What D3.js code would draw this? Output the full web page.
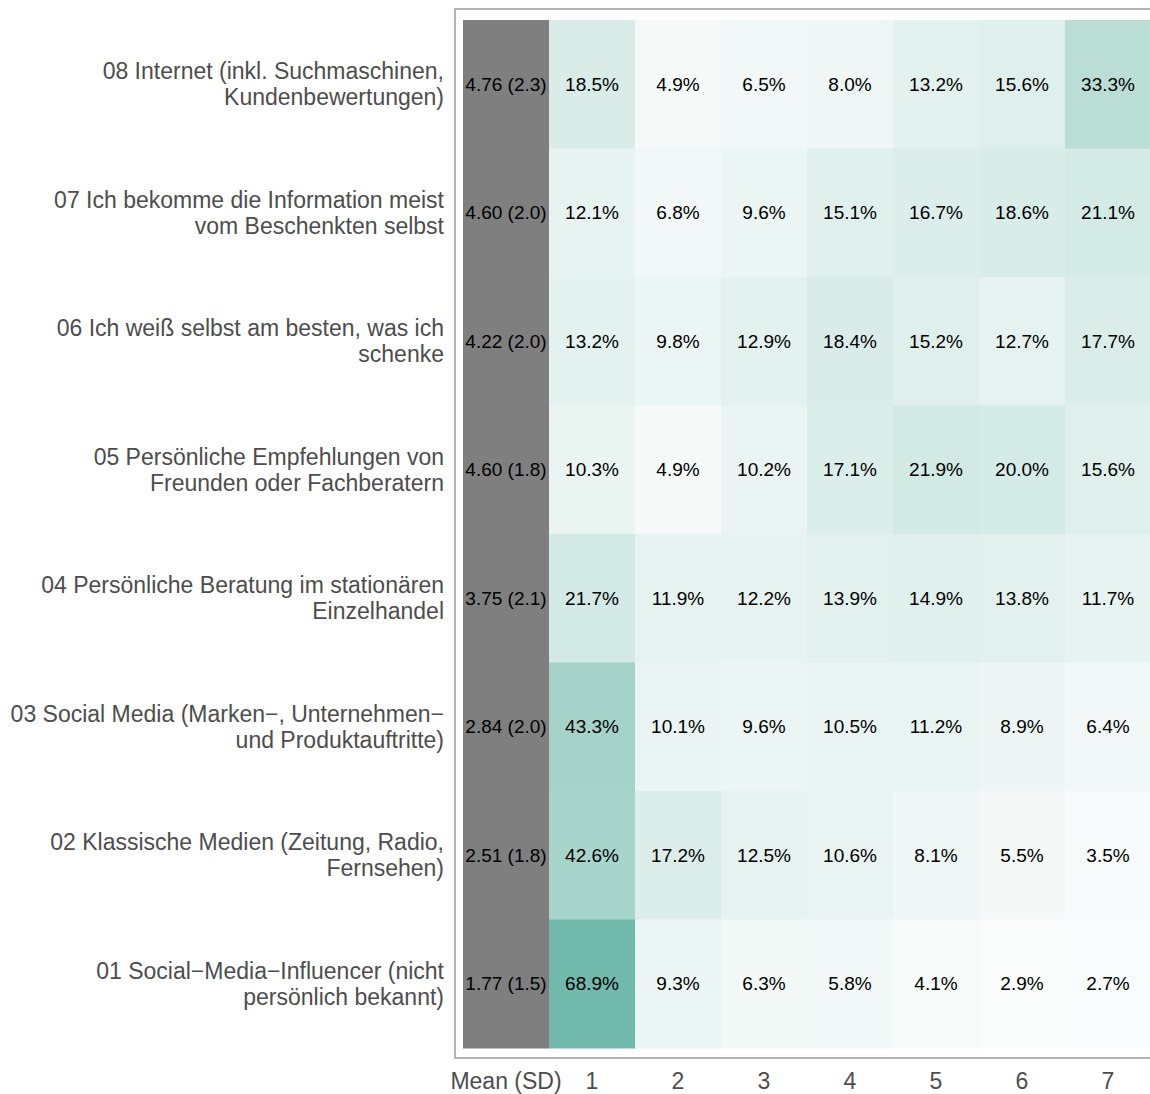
<!DOCTYPE html>
<html><head><meta charset="utf-8">
<script src="https://cdn.jsdelivr.net/npm/d3@7"></script>
<style>body{margin:0;background:#fff;}</style>
</head><body>
<svg id="chart" width="1150" height="1094" font-family="'Liberation Sans', Arial, sans-serif"></svg>
<script>
const items = [
  ["08 Internet (inkl. Suchmaschinen,", "Kundenbewertungen)"],
  ["07 Ich bekomme die Information meist", "vom Beschenkten selbst"],
  ["06 Ich weiß selbst am besten, was ich", "schenke"],
  ["05 Persönliche Empfehlungen von", "Freunden oder Fachberatern"],
  ["04 Persönliche Beratung im stationären", "Einzelhandel"],
  ["03 Social Media (Marken\u2212, Unternehmen\u2212", "und Produktauftritte)"],
  ["02 Klassische Medien (Zeitung, Radio,", "Fernsehen)"],
  ["01 Social\u2212Media\u2212Influencer (nicht", "persönlich bekannt)"]
];
const meanSD = ["4.76 (2.3)","4.60 (2.0)","4.22 (2.0)","4.60 (1.8)","3.75 (2.1)","2.84 (2.0)","2.51 (1.8)","1.77 (1.5)"];
const xLabels = ["Mean (SD)","1","2","3","4","5","6","7"];
const pct = [
  [18.5,4.9,6.5,8.0,13.2,15.6,33.3],
  [12.1,6.8,9.6,15.1,16.7,18.6,21.1],
  [13.2,9.8,12.9,18.4,15.2,12.7,17.7],
  [10.3,4.9,10.2,17.1,21.9,20.0,15.6],
  [21.7,11.9,12.2,13.9,14.9,13.8,11.7],
  [43.3,10.1,9.6,10.5,11.2,8.9,6.4],
  [42.6,17.2,12.5,10.6,8.1,5.5,3.5],
  [68.9,9.3,6.3,5.8,4.1,2.9,2.7]
];

const svg = d3.select("#chart");
const x = d3.scaleBand().domain(xLabels).range([463, 1151]).padding(0);
const y = d3.scaleBand().domain(d3.range(items.length)).range([20, 1048]).padding(0);
const color = d3.scaleLinear().domain([0, 68.9]).range(["#ffffff", "#70b9ab"]);

// panel border
svg.append("rect").attr("x",455).attr("y",9).attr("width",720).attr("height",1049)
  .attr("fill","none").attr("stroke","#b3b3b3").attr("stroke-width",2);

// mean cells
svg.selectAll("rect.mean").data(meanSD).join("rect").attr("class","mean")
  .attr("x", x("Mean (SD)")).attr("y",(d,i)=>y(i)).attr("width",x.bandwidth()+0.5).attr("height",y.bandwidth()+0.5)
  .attr("fill","#7f7f7f");
svg.selectAll("text.mean").data(meanSD).join("text").attr("class","mean")
  .attr("x", x("Mean (SD)")+x.bandwidth()/2).attr("y",(d,i)=>y(i)+y.bandwidth()/2)
  .attr("text-anchor","middle").attr("dy","0.35em").attr("font-size",19).attr("fill","#000").text(d=>d);

// pct cells
const cells = [];
pct.forEach((row,i)=>row.forEach((v,j)=>cells.push({i, j, v})));
svg.selectAll("rect.cell").data(cells).join("rect").attr("class","cell")
  .attr("x", d=>x(xLabels[d.j+1])).attr("y", d=>y(d.i)).attr("width",x.bandwidth()+0.5).attr("height",y.bandwidth()+0.5)
  .attr("fill", d=>color(d.v));
svg.selectAll("text.cell").data(cells).join("text").attr("class","cell")
  .attr("x", d=>x(xLabels[d.j+1])+x.bandwidth()/2).attr("y", d=>y(d.i)+y.bandwidth()/2)
  .attr("text-anchor","middle").attr("dy","0.35em").attr("font-size",19).attr("fill","#000")
  .text(d=>d.v.toFixed(1)+"%");

// y labels
const yl = svg.selectAll("text.ylab").data(items).join("text").attr("class","ylab")
  .attr("text-anchor","end").attr("font-size",23).attr("fill","#4d4d4d");
yl.each(function(d,i){
  const t = d3.select(this);
  const cy = y(i)+y.bandwidth()/2;
  d.forEach((line,k)=>{
    t.append("tspan").attr("x",444).attr("y", cy + (k-0.5)*26).attr("dy","0.35em").text(line);
  });
});

// x axis labels
svg.selectAll("text.xlab").data(xLabels).join("text").attr("class","xlab")
  .attr("x", d=>x(d)+x.bandwidth()/2).attr("y",1081).attr("dy","0.35em")
  .attr("text-anchor","middle").attr("font-size",23).attr("fill","#4d4d4d").text(d=>d);
</script>
</body></html>
